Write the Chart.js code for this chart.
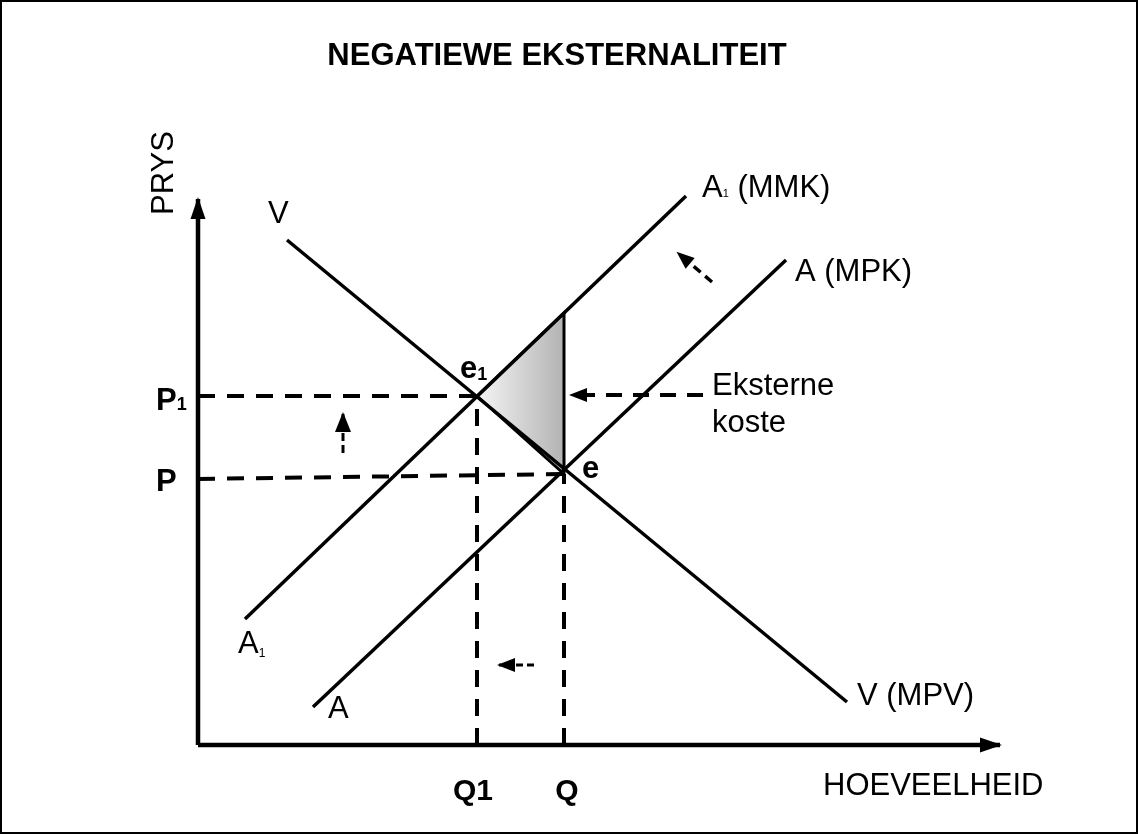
<!DOCTYPE html>
<html>
<head>
<meta charset="utf-8">
<title>Negatiewe eksternaliteit</title>
<script src="https://cdn.jsdelivr.net/npm/chart.js@4.4.0/dist/chart.umd.min.js"></script>
<style>
  html, body { margin: 0; padding: 0; background: #fff; }
  #grafiek { display: block; }
</style>
</head>
<body>
<canvas id="grafiek" width="1138" height="834"></canvas>
<script>
//DATA (eenhede op die as: hoeveelheid en prys)//
const vraagV = [{ x: 89, y: 505 }, { x: 649, y: 43 }]        // V (MPV)
const aanbodA1 = [{ x: 47, y: 126 }, { x: 488, y: 549 }]     // A1 (MMK)
const aanbodA = [{ x: 115, y: 38 }, { x: 588, y: 485 }]      // A (MPK)
const ewewigE1 = { x: 279, y: 349 }
const ewewigE = { x: 366, y: 271 }
const eksterneKoste = [ewewigE1, { x: 366, y: 432 }, ewewigE, ewewigE1]

const prysP1 = [{ x: 0, y: 349 }, ewewigE1]
const prysP = [{ x: 0, y: 266 }, ewewigE]
const hoeveelheidQ1 = [{ x: 279, y: 0 }, ewewigE1]
const hoeveelheidQ = [{ x: 366, y: 0 }, ewewigE]

const asX = [{ x: 0, y: 0 }, { x: 802, y: 0 }]
const asY = [{ x: 0, y: 0 }, { x: 0, y: 546 }]

// klein skuif-pyltjies
const pylOp = [{ x: 145, y: 292 }, { x: 145, y: 331 }]
const pylLinks = [{ x: 336, y: 80 }, { x: 301, y: 80 }]
const pylSkuin = [{ x: 514, y: 463 }, { x: 480, y: 492 }]
const pylKoste = [{ x: 505, y: 350 }, { x: 373, y: 350 }]

const FONT = "'Liberation Sans', Arial, sans-serif"

//TEKS OP DIE GRAFIEK//
const teksLabels = [
  { x: 359, y: 680, sentreer: true, dele: [{ t: 'NEGATIEWE EKSTERNALITEIT', g: 31, vet: true }] },
  { x: -25, y: 530, draai: -Math.PI / 2, dele: [{ t: 'PRYS', g: 31 }] },
  { x: 70, y: 522, dele: [{ t: 'V', g: 31 }] },
  { x: 504, y: 548, dele: [{ t: 'A', g: 31 }, { t: '1', g: 11 }, { t: ' (MMK)', g: 31 }] },
  { x: 597, y: 464, dele: [{ t: 'A (MPK)', g: 31 }] },
  { x: 262, y: 367, dele: [{ t: 'e', g: 31, vet: true }, { t: '1', g: 18, vet: true, dy: 2 }] },
  { x: 384, y: 267, dele: [{ t: 'e', g: 31, vet: true }] },
  { x: 514, y: 350, dele: [{ t: 'Eksterne', g: 31 }] },
  { x: 514, y: 313, dele: [{ t: 'koste', g: 31 }] },
  { x: -42, y: 335, dele: [{ t: 'P', g: 31, vet: true }, { t: '1', g: 18, vet: true }] },
  { x: -42, y: 254, dele: [{ t: 'P', g: 31, vet: true }] },
  { x: 40, y: 92, dele: [{ t: 'A', g: 31 }, { t: '1', g: 12, dy: 4 }] },
  { x: 130, y: 27, dele: [{ t: 'A', g: 31 }] },
  { x: 659, y: 40, dele: [{ t: 'V (MPV)', g: 31 }] },
  { x: 275, y: -55, sentreer: true, dele: [{ t: 'Q1', g: 30, vet: true }] },
  { x: 369, y: -55, sentreer: true, dele: [{ t: 'Q', g: 30, vet: true }] },
  { x: 625, y: -50, dele: [{ t: 'HOEVEELHEID', g: 31 }] }
]

//PLUGINS//
const agtergrond = {
  id: 'agtergrond',
  beforeDraw(chart) {
    const ctx = chart.ctx
    ctx.save()
    ctx.fillStyle = '#fff'
    ctx.fillRect(0, 0, chart.width, chart.height)
    ctx.restore()
  },
  afterDraw(chart) {
    const ctx = chart.ctx
    ctx.save()
    ctx.strokeStyle = '#000'
    ctx.lineWidth = 2
    ctx.strokeRect(1, 1, chart.width - 2, chart.height - 2)
    ctx.restore()
  }
}

// grys driehoek met gradient (eksterne koste)
const skaduwee = {
  id: 'skaduwee',
  beforeDatasetsDraw(chart) {
    const ctx = chart.ctx
    chart.data.datasets.forEach((ds, i) => {
      if (!ds.skadu) return
      const pts = chart.getDatasetMeta(i).data
      const xs = pts.map(p => p.x)
      const grad = ctx.createLinearGradient(Math.min(...xs), 0, Math.max(...xs), 0)
      grad.addColorStop(0, '#f5f5f5')
      grad.addColorStop(1, '#b3b3b3')
      ctx.save()
      ctx.beginPath()
      pts.forEach((p, j) => j ? ctx.lineTo(p.x, p.y) : ctx.moveTo(p.x, p.y))
      ctx.closePath()
      ctx.fillStyle = grad
      ctx.fill()
      ctx.restore()
    })
  }
}

// pylpunte aan die einde van 'n lyn
const pylpunte = {
  id: 'pylpunte',
  afterDatasetsDraw(chart) {
    const ctx = chart.ctx
    chart.data.datasets.forEach((ds, i) => {
      if (!ds.pyl) return
      const pts = chart.getDatasetMeta(i).data
      const a = pts[pts.length - 2]
      const b = pts[pts.length - 1]
      const hoek = Math.atan2(b.y - a.y, b.x - a.x)
      const [lengte, breedte] = ds.pyl
      ctx.save()
      ctx.translate(b.x, b.y)
      ctx.rotate(hoek)
      ctx.beginPath()
      ctx.moveTo(2, 0)
      ctx.lineTo(-lengte, -breedte / 2)
      ctx.lineTo(-lengte, breedte / 2)
      ctx.closePath()
      ctx.fillStyle = '#000'
      ctx.fill()
      ctx.restore()
    })
  }
}

const etikette = {
  id: 'etikette',
  afterDraw(chart) {
    const ctx = chart.ctx
    const sx = chart.scales.x
    const sy = chart.scales.y
    ctx.save()
    ctx.fillStyle = '#000'
    ctx.textBaseline = 'alphabetic'
    ctx.textAlign = 'left'
    teksLabels.forEach(lb => {
      const fonte = lb.dele.map(d => (d.vet ? 'bold ' : '') + d.g + 'px ' + FONT)
      let totaal = 0
      lb.dele.forEach((d, j) => {
        ctx.font = fonte[j]
        totaal += ctx.measureText(d.t).width
      })
      ctx.save()
      ctx.translate(sx.getPixelForValue(lb.x), sy.getPixelForValue(lb.y))
      if (lb.draai) ctx.rotate(lb.draai)
      let cx = lb.sentreer ? -totaal / 2 : 0
      lb.dele.forEach((d, j) => {
        ctx.font = fonte[j]
        ctx.fillText(d.t, cx, d.dy || 0)
        cx += ctx.measureText(d.t).width
      })
      ctx.restore()
    })
    ctx.restore()
  }
}

//DATASETS//
function lyn(data, ekstra) {
  return Object.assign({
    data: data,
    showLine: true,
    borderColor: '#000',
    borderWidth: 3.5,
    pointRadius: 0,
    fill: false,
    clip: false
  }, ekstra || {})
}

const stippel = [17, 12]

const datasets = [
  lyn(eksterneKoste, { skadu: true, borderWidth: 3 }),
  lyn(prysP1, { borderDash: stippel, borderWidth: 4 }),
  lyn(prysP, { borderDash: stippel, borderWidth: 4 }),
  lyn(hoeveelheidQ1, { borderDash: stippel, borderWidth: 4 }),
  lyn(hoeveelheidQ, { borderDash: stippel, borderWidth: 4 }),
  lyn(vraagV),
  lyn(aanbodA1),
  lyn(aanbodA),
  lyn(asX, { borderWidth: 4.5, pyl: [20, 15] }),
  lyn(asY, { borderWidth: 4.5, pyl: [20, 15] }),
  lyn(pylOp, { borderDash: [8, 4], borderWidth: 3, pyl: [18, 16] }),
  lyn(pylLinks, { borderDash: [7, 4], borderWidth: 3, pyl: [16, 14] }),
  lyn(pylSkuin, { borderDash: [9, 6], borderWidth: 3.5, pyl: [16, 14] }),
  lyn(pylKoste, { borderDash: [16, 11], borderWidth: 4, pyl: [16, 14] })
]

//GRAFIEK//
const grafiek = new Chart(document.getElementById('grafiek'), {
  type: 'scatter',
  data: { datasets: datasets },
  options: {
    responsive: false,
    animation: false,
    layout: { padding: { left: 198, right: 136, top: 185, bottom: 89 } },
    scales: {
      x: { type: 'linear', min: 0, max: 804, display: false },
      y: { type: 'linear', min: 0, max: 560, display: false }
    },
    plugins: {
      legend: { display: false },
      tooltip: { enabled: false },
      title: { display: false }
    }
  },
  plugins: [agtergrond, skaduwee, pylpunte, etikette]
})
</script>
</body>
</html>
